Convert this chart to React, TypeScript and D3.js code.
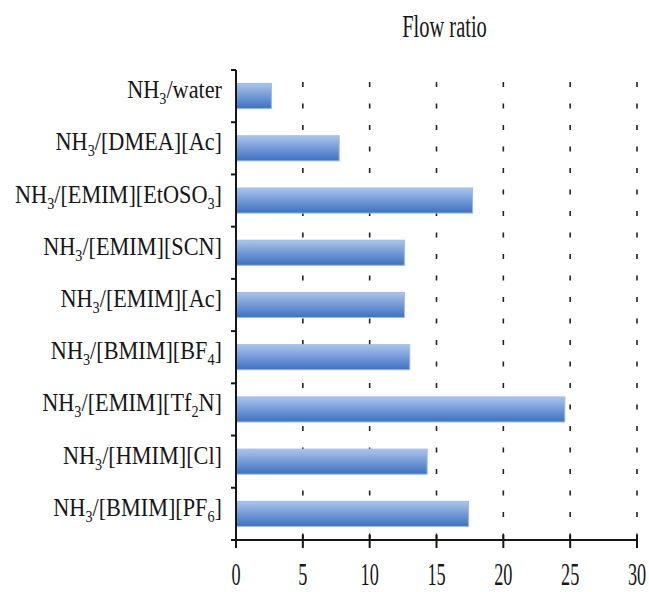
import React from "react";
import * as d3 from "d3";

const categories = [
  "NH_3/water",
  "NH_3/[DMEA][Ac]",
  "NH_3/[EMIM][EtOSO_3]",
  "NH_3/[EMIM][SCN]",
  "NH_3/[EMIM][Ac]",
  "NH_3/[BMIM][BF_4]",
  "NH_3/[EMIM][Tf_2N]",
  "NH_3/[HMIM][Cl]",
  "NH_3/[BMIM][PF_6]",
];
const flowRatio = [2.65, 7.72, 17.7, 12.6, 12.6, 13.0, 24.6, 14.3, 17.4];
const xTicks = [0, 5, 10, 15, 20, 25, 30];
const title = "Flow ratio";

const W = 649;
const H = 592;
const axisX = 236;
const axisTop = 70;
const axisBottom = 540;
const FONT = "Liberation Serif, DejaVu Serif, serif";
const INK = "#161616";

function parseLabel(s: string) {
  const parts: { t: string; sub: boolean }[] = [];
  let buf = "";
  for (let i = 0; i < s.length; i++) {
    if (s[i] === "_" && i + 1 < s.length) {
      if (buf) parts.push({ t: buf, sub: false });
      buf = "";
      parts.push({ t: s[i + 1], sub: true });
      i++;
    } else buf += s[i];
  }
  if (buf) parts.push({ t: buf, sub: false });
  return parts;
}

export default function App() {
  const x = d3.scaleLinear().domain([0, 30]).range([axisX, 637]);
  const y = d3
    .scaleBand<string>()
    .domain(categories)
    .range([axisTop, axisBottom])
    .paddingInner(0.52)
    .paddingOuter(0.26);
  const step = y.step();
  const bw = y.bandwidth();
  const bandEdges = d3.range(categories.length + 1).map((i) => axisTop + i * step);

  return (
    <svg
      width={W}
      height={H}
      style={{ position: "absolute", left: 0, top: 0, background: "#fff" }}
    >
      <defs>
        <linearGradient id="barGrad" x1="0" y1="0" x2="0" y2="1">
          <stop offset="0%" stopColor="#aac5eb" />
          <stop offset="50%" stopColor="#7399d6" />
          <stop offset="100%" stopColor="#3b72c1" />
        </linearGradient>
      </defs>
      <rect x={0} y={0} width={W} height={H} fill="#fff" />

      {/* title */}
      <text
        transform={`translate(${x(15) + 8},37) scale(0.66,1)`}
        textAnchor="middle"
        fontFamily={FONT}
        fontSize={31}
        fill={INK}
      >
        {title}
      </text>

      {/* dotted gridlines */}
      {xTicks.slice(1).map((t) => (
        <line
          key={"g" + t}
          x1={x(t)}
          x2={x(t)}
          y1={axisTop}
          y2={axisBottom}
          stroke="#222"
          strokeWidth={1.6}
          strokeDasharray="5 16.5"
          strokeDashoffset={9.5}
        />
      ))}

      {/* bars */}
      {categories.map((c, i) => (
        <rect
          key={c}
          x={x(0)}
          y={y(c)!}
          width={x(flowRatio[i]) - x(0)}
          height={bw}
          fill="url(#barGrad)"
          stroke="#9dbae6"
          strokeWidth={1}
        />
      ))}

      {/* y axis */}
      <line x1={axisX} x2={axisX} y1={axisTop} y2={axisBottom} stroke={INK} strokeWidth={2} />
      {bandEdges.map((v, i) => (
        <line key={"yt" + i} x1={axisX - 5} x2={axisX} y1={v} y2={v} stroke={INK} strokeWidth={2} />
      ))}

      {/* x axis */}
      <line x1={x(0)} x2={x(30)} y1={axisBottom} y2={axisBottom} stroke={INK} strokeWidth={2} />
      {xTicks.map((t) => (
        <line key={"xt" + t} x1={x(t)} x2={x(t)} y1={axisBottom - 5} y2={axisBottom + 8} stroke={INK} strokeWidth={2} />
      ))}
      {xTicks.map((t) => (
        <text
          key={"xl" + t}
          transform={`translate(${x(t)},585) scale(0.57,1)`}
          textAnchor="middle"
          fontFamily={FONT}
          fontSize={32}
          fill={INK}
        >
          {t}
        </text>
      ))}

      {/* category labels */}
      {categories.map((c) => {
        const cy = y(c)! + bw / 2 + 2;
        const parts = parseLabel(c);
        let shifted = false;
        return (
          <text
            key={"cl" + c}
            transform={`translate(222,${cy}) scale(0.89,1)`}
            textAnchor="end"
            fontFamily={FONT}
            fontSize={25}
            fill={INK}
          >
            {parts.map((p, j) => {
              let dy = 0;
              if (p.sub && !shifted) {
                dy = 6;
                shifted = true;
              } else if (!p.sub && shifted) {
                dy = -6;
                shifted = false;
              }
              return (
                <tspan key={j} dy={dy} fontSize={p.sub ? 16 : 25}>
                  {p.t}
                </tspan>
              );
            })}
          </text>
        );
      })}
    </svg>
  );
}
